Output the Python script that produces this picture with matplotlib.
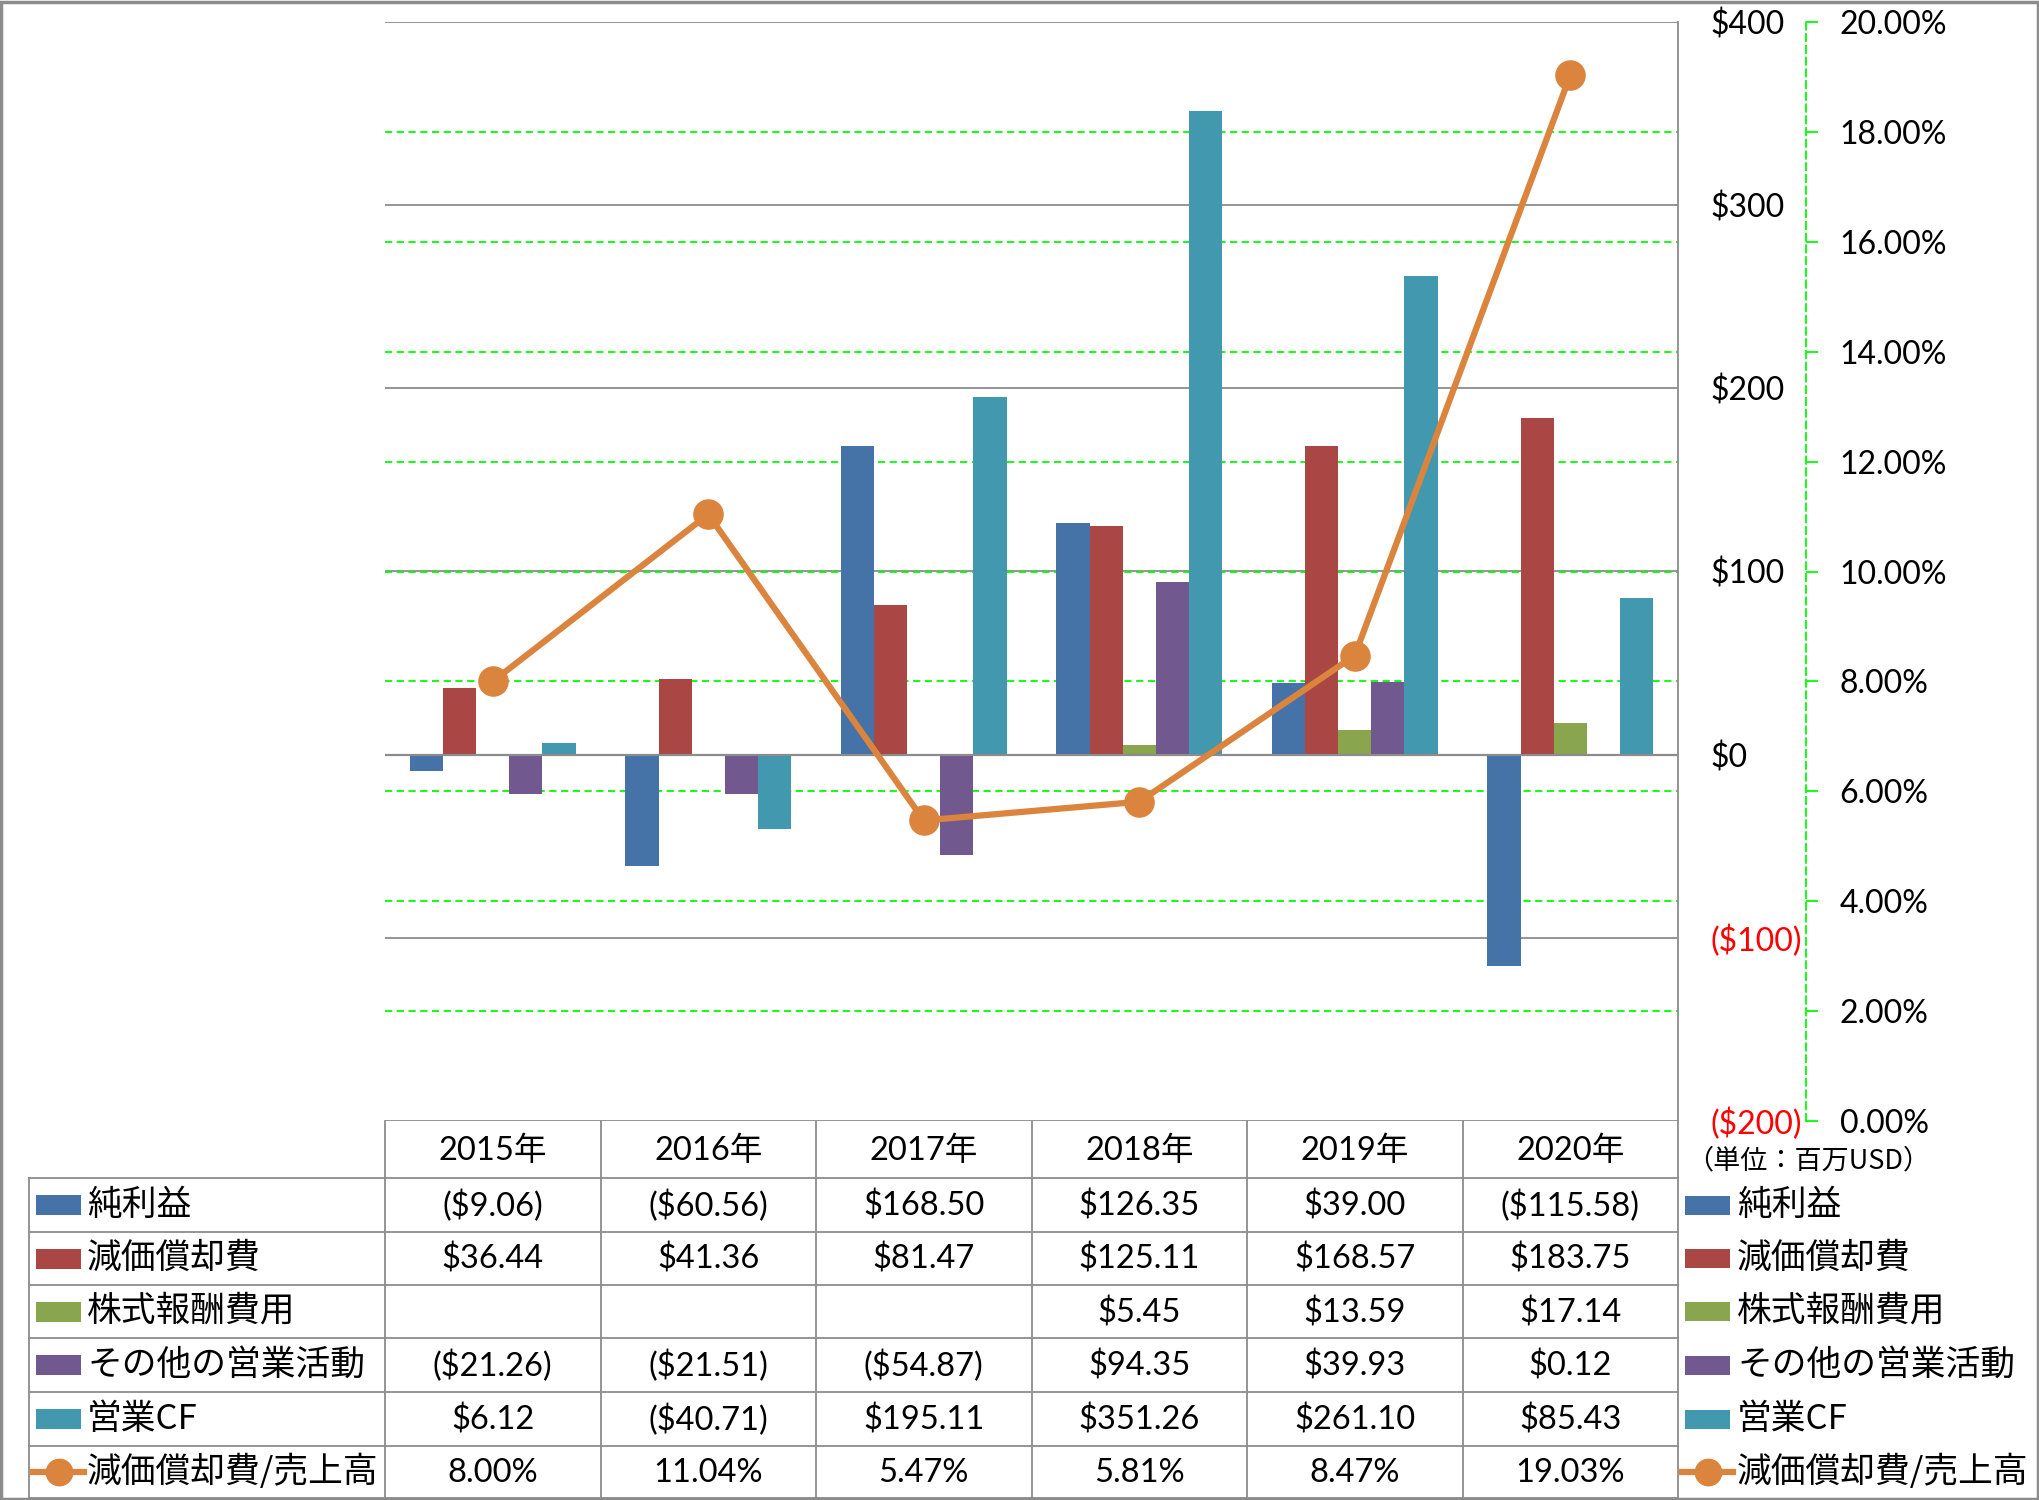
import numpy as np
import matplotlib
matplotlib.use('Agg')
import matplotlib.pyplot as plt
from matplotlib.lines import Line2D
from matplotlib.patches import Rectangle
from matplotlib.transforms import blended_transform_factory

plt.rcParams['font.family'] = ['Lato', 'Noto Sans CJK JP', 'DejaVu Sans']

# ---------------- data ----------------
years = ['2015年', '2016年', '2017年', '2018年', '2019年', '2020年']
series_names = ['純利益', '減価償却費', '株式報酬費用', 'その他の営業活動', '営業CF']
net_income = [-9.06, -60.56, 168.50, 126.35, 39.00, -115.58]
depreciation = [36.44, 41.36, 81.47, 125.11, 168.57, 183.75]
stock_comp = [np.nan, np.nan, np.nan, 5.45, 13.59, 17.14]
other_ops = [-21.26, -21.51, -54.87, 94.35, 39.93, 0.12]
operating_cf = [6.12, -40.71, 195.11, 351.26, 261.10, 85.43]
line_name = '減価償却費/売上高'
dep_ratio = [8.00, 11.04, 5.47, 5.81, 8.47, 19.03]
dollar_ticks = [-200, -100, 0, 100, 200, 300, 400]
pct_ticks = [0, 2, 4, 6, 8, 10, 12, 14, 16, 18, 20]
unit_label = '（単位：百万USD）'

series_values = [net_income, depreciation, stock_comp, other_ops, operating_cf]
colors = ['#4572A7', '#AA4643', '#89A54E', '#71588F', '#4198AF']
line_color = '#DB843D'
grid_gray = '#8c8c8c'
green = '#00ff00'

# ---------------- layout ----------------
W, H = 2039, 1500
fig = plt.figure(figsize=(W / 100, H / 100), dpi=100)


def fx(px):
    return px / W


def fy(py):
    return 1 - py / H


L, R, T, B = 385, 1678, 22, 1121
ax = fig.add_axes([fx(L), fy(B), fx(R - L), (B - T) / H])
ax2 = ax.twinx()

x = np.arange(len(years))
n = len(series_values)
w = 1.0 / (n + 1.5)

ax.set_xlim(-0.5, len(years) - 0.5)
ax.set_ylim(min(dollar_ticks), max(dollar_ticks))
ax2.set_ylim(min(pct_ticks), max(pct_ticks))

# gray grid
ax.set_axisbelow(True)
ax.yaxis.grid(True, color=grid_gray, lw=1.3, zorder=0.5)
# green dashed percentage grid (behind bars)
btr = blended_transform_factory(ax.transAxes, ax2.transData)
for p in pct_ticks[1:-1]:
    ax.plot([0, 1], [p, p], transform=btr, color=green, lw=1.3,
            ls=(0, (4, 2.5)), zorder=0.8)

for i, (vals, c) in enumerate(zip(series_values, colors)):
    ax.bar(x + (i - (n - 1) / 2) * w, np.array(vals, dtype=float), w,
           color=c, zorder=2, label=series_names[i])

ax.axhline(0, color=grid_gray, lw=1.6, zorder=3)

ax2.plot(x, dep_ratio, color=line_color, lw=4.5, marker='o', ms=21,
         markerfacecolor=line_color, markeredgecolor=line_color, zorder=5,
         solid_capstyle='round')

tick_fs = 23
# primary axis (right, $)
ax.yaxis.tick_right()
ax.set_yticks(dollar_ticks)
labels = []
for v in dollar_ticks:
    labels.append(f'(${abs(v)})' if v < 0 else f'${v}')
ax.set_yticklabels(labels)
for t, v in zip(ax.get_yticklabels(), dollar_ticks):
    t.set_color('red' if v < 0 else 'black')
ax.tick_params(axis='y', length=0, pad=23.5, labelsize=tick_fs)
ax.set_xticks([])
for s in ['left', 'top', 'bottom']:
    ax.spines[s].set_visible(False)
ax.spines['right'].set_color(grid_gray)
ax.spines['right'].set_linewidth(1.3)

# secondary axis (%)
ax2.set_yticks(pct_ticks)
ax2.set_yticklabels([f'{v:.2f}%' for v in pct_ticks])
for s in ['left', 'top', 'bottom']:
    ax2.spines[s].set_visible(False)
ax2.spines['right'].set_position(('outward', 92))
ax2.spines['right'].set_color(green)
ax2.spines['right'].set_linestyle((0, (4, 2.5)))
ax2.spines['right'].set_linewidth(1.3)
ax2.tick_params(axis='y', direction='out', length=8.6, width=1.3, color=green,
                pad=15.8, labelsize=tick_fs)

# ---------------- data table ----------------
row_edges = [1178, 1232, 1285, 1338, 1392, 1446, 1498]
row_centers = [(a + b) / 2 for a, b in zip(row_edges[:-1], row_edges[1:])]
xtr = blended_transform_factory(ax.transData, fig.transFigure)
ftr = fig.transFigure
tbl_left = 29
num_fs = 23.5
lab_fs = 25


def add_line(xs, ys, transform, **kw):
    fig.add_artist(Line2D(xs, ys, transform=transform, **kw))


# horizontal lines
for yy in row_edges:
    add_line([fx(tbl_left), fx(R)], [fy(yy), fy(yy)], ftr, color=grid_gray, lw=1.3)
# vertical lines at category boundaries
for b in np.arange(len(years) + 1) - 0.5:
    add_line([b, b], [fy(B), fy(row_edges[-1])], xtr, color=grid_gray, lw=1.3)
add_line([fx(tbl_left), fx(tbl_left)], [fy(row_edges[0]), fy(row_edges[-1])], ftr,
         color=grid_gray, lw=1.3)

# header
for xi, yr in zip(x, years):
    fig.text(xi, fy((B + row_edges[0]) / 2 + 1), yr, transform=xtr, ha='center',
             va='center', fontsize=num_fs)


def fmt_money(v):
    if v is None or (isinstance(v, float) and np.isnan(v)):
        return ''
    return f'(${abs(v):.2f})' if v < 0 else f'${v:.2f}'


for r, vals in enumerate(series_values):
    yc = fy(row_centers[r] + 1)
    for xi, v in zip(x, vals):
        fig.text(xi, yc, fmt_money(v), transform=xtr, ha='center', va='center',
                 fontsize=num_fs)
yc = fy(row_centers[-1] + 1)
for xi, v in zip(x, dep_ratio):
    fig.text(xi, yc, f'{v:.2f}%', transform=xtr, ha='center', va='center',
             fontsize=num_fs)

# legend keys (left in table, right of chart)
all_names = series_names + [line_name]
for r, name in enumerate(all_names):
    ycp = row_centers[r]
    for (x0, x1, tx, hh) in [(36, 81, 87, 20), (1685, 1730, 1737, 19)]:
        if r < n:
            fig.add_artist(Rectangle((fx(x0), fy(ycp + hh / 2)), fx(x1 - x0), hh / H,
                                     transform=ftr, facecolor=colors[r],
                                     edgecolor='none'))
        else:
            add_line([fx(x0 - 3), fx(x1 + 3)], [fy(ycp), fy(ycp)], ftr,
                     color=line_color, lw=4.5)
            add_line([fx((x0 + x1) / 2)], [fy(ycp)], ftr, color=line_color,
                     marker='o', ms=19, lw=0)
        fig.text(fx(tx), fy(ycp), name, ha='left', va='center', fontsize=lab_fs,
                 family=['Noto Sans CJK JP', 'Lato'])

fig.text(fx(1808), fy(1161), unit_label, ha='center', va='center', fontsize=19.5,
         family=['Noto Sans CJK JP', 'Lato'])

# outer frame
fig.add_artist(Rectangle((0.0007, 0.001), 0.9986, 0.998, transform=ftr, fill=False,
                         edgecolor=grid_gray, lw=2.5))

fig.savefig('out.png', dpi=100)
